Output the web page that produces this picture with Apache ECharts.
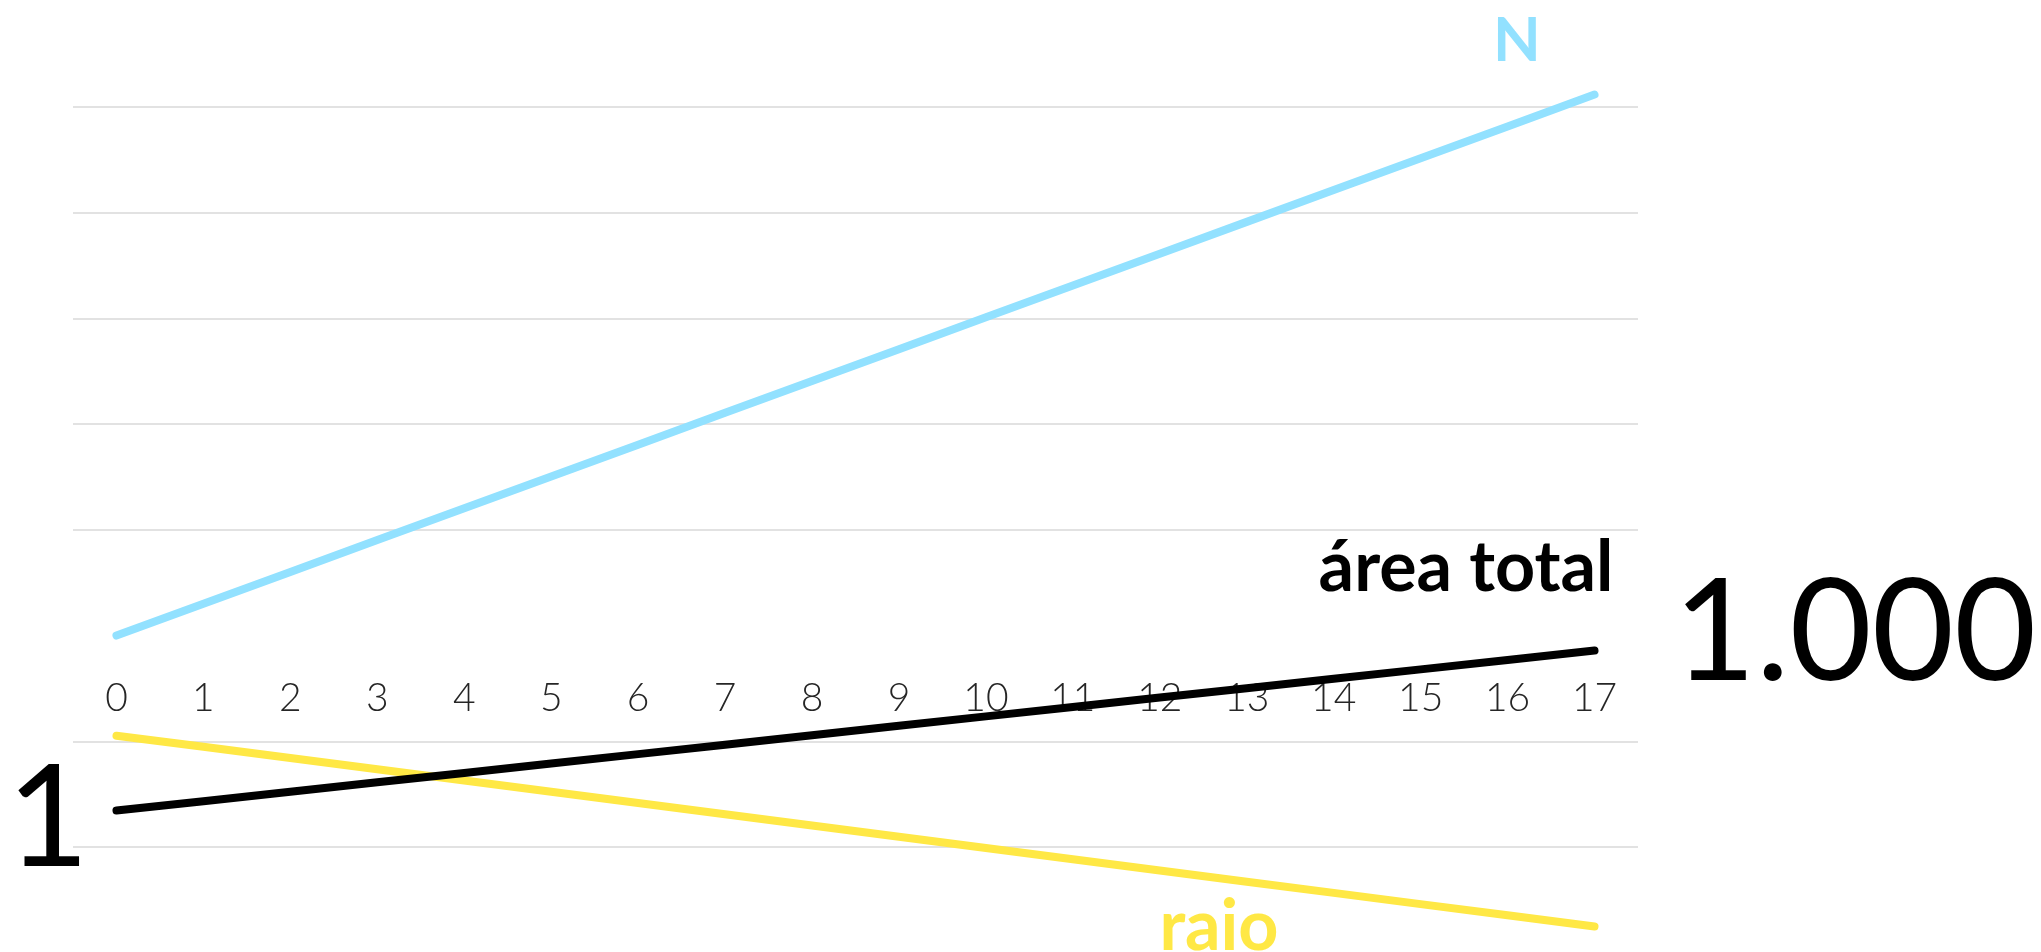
<!DOCTYPE html>
<html>
<head>
<meta charset="utf-8">
<title>N, raio e área total por geração</title>
<script src="https://cdn.jsdelivr.net/npm/echarts@6/dist/echarts.min.js"></script>
<style>
  html, body { margin: 0; padding: 0; background: #ffffff; }
  #chart { width: 2041px; height: 952px; }
</style>
</head>
<body>
<div id="chart"></div>
<script>
// Generations along the horizontal axis
const categories = ['0','1','2','3','4','5','6','7','8','9','10','11','12','13','14','15','16','17'];

// Number of branches per generation
const nValues = [1, 2, 4, 8, 16, 32, 64, 128, 256, 512, 1024, 2048, 4096, 8192, 16384, 32768, 65536, 131072];

// Radius of each branch
const raioValues = [0.113, 0.0887, 0.0694, 0.0543, 0.0425, 0.0333, 0.0261, 0.0204, 0.0160, 0.0125,
                    0.0098, 0.00767, 0.0060, 0.0047, 0.00368, 0.00288, 0.00226, 0.00177];

// Total cross-section area of the generation
const areaValues = [0.0221, 0.0271, 0.0333, 0.0409, 0.0502, 0.0616, 0.0756, 0.0928, 0.114, 0.140,
                    0.172, 0.211, 0.259, 0.318, 0.390, 0.479, 0.587, 0.721];

// Series names as written next to the lines
const seriesNames = ['N', 'raio', 'área total'];

const colN = '#92e1ff';
const colRaio = '#ffe845';
const colArea = '#000000';
const gridColor = '#d9d9d9';

const chart = echarts.init(document.getElementById('chart'), null, { renderer: 'canvas' });

const lineBase = { type: 'line', symbol: 'none', clip: false, smooth: false, silent: true };

chart.setOption({
  animation: false,
  backgroundColor: '#ffffff',
  grid: { left: 73, right: 403, top: 107, bottom: 105, containLabel: false },
  xAxis: {
    type: 'category',
    data: categories,
    boundaryGap: true,
    position: 'bottom',
    offset: -209,
    axisLine: { show: false, onZero: false },
    axisTick: { show: false },
    splitLine: { show: false },
    axisLabel: {
      show: true,
      interval: 0,
      margin: 60,
      verticalAlign: 'middle',
      fontFamily: 'Lato',
      fontWeight: 300,
      fontSize: 39,
      color: '#262626'
    }
  },
  yAxis: {
    type: 'log',
    logBase: 10,
    min: 0.01,
    max: 100000,
    axisLine: { show: false },
    axisTick: { show: false },
    axisLabel: { show: false },
    splitLine: {
      show: true,
      showMinLine: true,
      showMaxLine: true,
      lineStyle: {
        // the line at 1 is where the horizontal axis sits, left blank
        color: [gridColor, gridColor, 'rgba(0,0,0,0)', gridColor, gridColor, gridColor, gridColor, gridColor],
        width: 1.5
      }
    }
  },
  series: [
    Object.assign({}, lineBase, {
      name: seriesNames[0], data: nValues, z: 2,
      lineStyle: { color: colN, width: 8, cap: 'round', join: 'round' }
    }),
    Object.assign({}, lineBase, {
      name: seriesNames[1], data: raioValues, z: 3,
      lineStyle: { color: colRaio, width: 8, cap: 'round', join: 'round' }
    }),
    Object.assign({}, lineBase, {
      name: seriesNames[2], data: areaValues, z: 4,
      lineStyle: { color: colArea, width: 8, cap: 'round', join: 'round' }
    })
  ],
  graphic: [
    { type: 'text', z: 10, style: { text: seriesNames[0], x: 1517, y: 41, align: 'center', verticalAlign: 'middle',
      font: 'bold 62px Lato', fill: colN } },
    { type: 'text', z: 10, style: { text: seriesNames[2], x: 1466, y: 568, align: 'center', verticalAlign: 'middle',
      font: 'bold 70px Lato', fill: colArea } },
    { type: 'text', z: 10, style: { text: seriesNames[1], x: 1219, y: 927, align: 'center', verticalAlign: 'middle',
      font: 'bold 70px Lato', fill: colRaio } },
    { type: 'text', z: 10, style: { text: '1', x: 48, y: 820, align: 'center', verticalAlign: 'middle',
      font: '142px Lato', fill: '#000000' } },
    { type: 'text', z: 10, style: { text: '1.000', x: 1855, y: 634, align: 'center', verticalAlign: 'middle',
      font: '142px Lato', fill: '#000000' } }
  ]
});
</script>
</body>
</html>
